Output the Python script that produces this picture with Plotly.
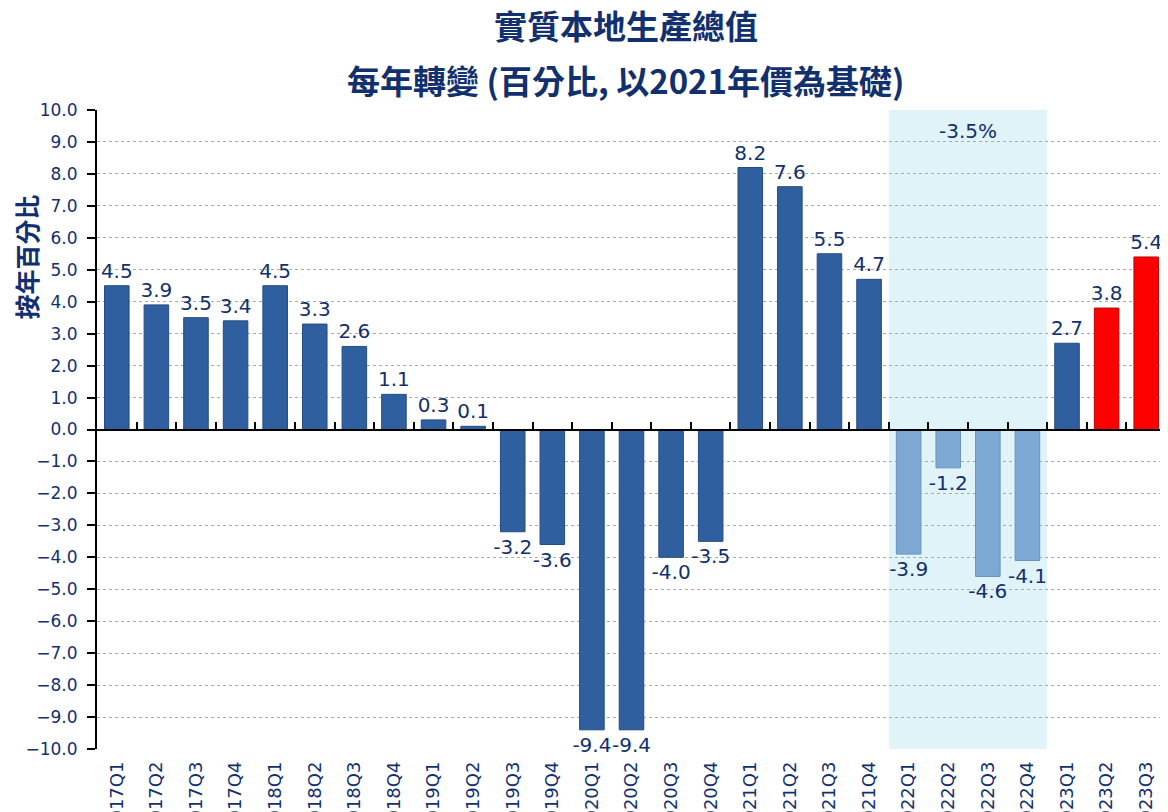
import plotly.graph_objects as go

quarters = ["2017Q1","2017Q2","2017Q3","2017Q4","2018Q1","2018Q2","2018Q3","2018Q4",
            "2019Q1","2019Q2","2019Q3","2019Q4","2020Q1","2020Q2","2020Q3","2020Q4",
            "2021Q1","2021Q2","2021Q3","2021Q4","2022Q1","2022Q2","2022Q3","2022Q4",
            "2023Q1","2023Q2","2023Q3"]
growth = [4.5,3.9,3.5,3.4,4.5,3.3,2.6,1.1,0.3,0.1,-3.2,-3.6,-9.4,-9.4,-4.0,-3.5,
          8.2,7.6,5.5,4.7,-3.9,-1.2,-4.6,-4.1,2.7,3.8,5.4]
shade_label = "-3.5%"
title_line1 = "實質本地生產總值"
title_line2 = "每年轉變 (百分比, 以2021年價為基礎)"
y_title = "按年百分比"
y_ticks = [v for v in range(-10, 11)]

NAVY = "#12306E"
DARK = "#2F5F9F"
LIGHT = "#7EA8D4"
RED = "#FF0000"

colors = []
lines = []
for q in quarters:
    if q.startswith("2022"):
        colors.append(LIGHT); lines.append("#6A93BF")
    elif q in ("2023Q2", "2023Q3"):
        colors.append(RED); lines.append("#C00000")
    else:
        colors.append(DARK); lines.append("#244C80")

idx = list(range(len(quarters)))
FONT = "DejaVu Sans, Verdana, sans-serif"
CJK = "Noto Sans CJK TC, DejaVu Sans, sans-serif"

fig = go.Figure()
fig.add_trace(go.Bar(
    x=idx, y=growth,
    marker=dict(color=colors, line=dict(color=lines, width=1)),
    text=[f"{v:.1f}" for v in growth],
    textposition="outside",
    constraintext="none",
    textfont=dict(family=FONT, size=20, color=NAVY),
    cliponaxis=False,
    width=0.62,
    hoverinfo="skip",
))
fig.add_trace(go.Scatter(x=[-0.5, len(quarters) - 0.5], y=[0, 0], xaxis="x2",
                         mode="lines", line=dict(color="rgba(0,0,0,0)"),
                         hoverinfo="skip", showlegend=False))

fig.add_shape(type="rect", xref="x", yref="paper", x0=19.5, x1=23.5, y0=0, y1=1,
              fillcolor="#DFF3F8", line=dict(width=0), layer="below")
fig.add_annotation(x=21.5, y=9.35, xref="x", yref="y", text=shade_label, showarrow=False,
                   font=dict(family=FONT, size=20, color=NAVY))

fig.add_annotation(x=0.495, y=1.133, xref="paper", yref="paper", xanchor="center",
                   yanchor="middle", text=f"<b>{title_line1}</b>", showarrow=False,
                   font=dict(family=CJK, size=33, color=NAVY))
fig.add_annotation(x=0.495, y=1.047, xref="paper", yref="paper", xanchor="center",
                   yanchor="middle", text=f"<b>{title_line2}</b>", showarrow=False,
                   font=dict(family=CJK, size=33, color=NAVY))
fig.add_annotation(x=-0.066, y=0.77, xref="paper", yref="paper", xanchor="center",
                   yanchor="middle", text=f"<b>{y_title}</b>",
                   textangle=-90, showarrow=False,
                   font=dict(family=CJK, size=25, color=NAVY))

n = len(quarters)
fig.update_layout(
    width=1160, height=804,
    margin=dict(l=89, r=2, t=102, b=63),
    plot_bgcolor="white", paper_bgcolor="white",
    showlegend=False,
    xaxis=dict(range=[-0.5, n - 0.5], tickmode="array", tickvals=idx, ticktext=quarters,
               tickangle=-90, showgrid=False, zeroline=False, showline=False, ticks="",
               ticklabelstandoff=8,
               tickfont=dict(family=FONT, size=18, color=NAVY), automargin=False),
    xaxis2=dict(overlaying="x", anchor="free", position=0.5, range=[-0.5, n - 0.5],
                tickmode="array", tickvals=[i - 0.5 for i in range(n + 1)],
                ticks="inside", ticklen=7, tickwidth=2, tickcolor="black",
                showticklabels=False, showgrid=False, zeroline=False,
                showline=True, linecolor="black", linewidth=2, side="bottom"),
    yaxis=dict(range=[-10, 10], tickmode="array", tickvals=y_ticks, tickformat=".1f",
               showgrid=True, gridcolor="#AAAAAA", griddash="dot", gridwidth=1,
               zeroline=False, showline=True, linecolor="black", linewidth=2,
               ticks="outside", ticklen=8, tickwidth=2, tickcolor="black",
               ticklabelstandoff=6,
               tickfont=dict(family=FONT, size=17, color=NAVY), automargin=False),
)

fig.write_html("out.html")
